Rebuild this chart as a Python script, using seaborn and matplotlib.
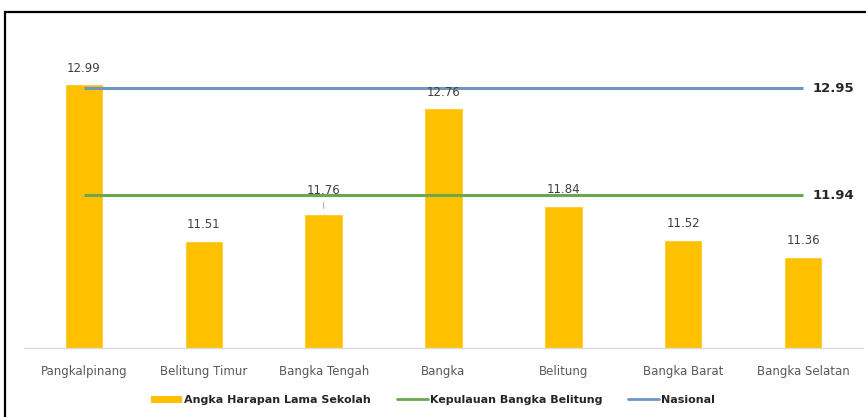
import numpy as np
import pandas as pd
import matplotlib.pyplot as plt
import seaborn as sns
from matplotlib.patches import Patch, Rectangle
from matplotlib.lines import Line2D

# data
kabupaten = ["Pangkalpinang", "Belitung Timur", "Bangka Tengah", "Bangka",
             "Belitung", "Bangka Barat", "Bangka Selatan"]
ahls = [12.99, 11.51, 11.76, 12.76, 11.84, 11.52, 11.36]
provinsi = 11.94   # Kepulauan Bangka Belitung
nasional = 12.95

df = pd.DataFrame({"kabupaten": kabupaten, "ahls": ahls})

sns.set_theme(style="white")
plt.rcParams["font.family"] = ["DejaVu Sans"]

fig = plt.figure(figsize=(8.66, 4.17), dpi=100)
ax = fig.add_axes([24 / 866, 69 / 417, 839 / 866, 318 / 417])

sns.barplot(data=df, x="kabupaten", y="ahls", color="#FFC000", width=0.32,
            saturation=1, ax=ax, zorder=2)

n = len(kabupaten)
ax.hlines(nasional, 0, n - 1, color="#6E96C0", lw=2.2, zorder=3)
ax.hlines(provinsi, 0, n - 1, color="#6AA84F", lw=2.2, zorder=3)

# value labels above the bars
for i, v in enumerate(ahls):
    off = 9
    if kabupaten[i] == "Bangka Tengah":
        off = 15
        ax.annotate("", xy=(i, v + 0.03), xytext=(i, v + 0.14),
                    arrowprops=dict(arrowstyle="-", color="#9DB3CF", lw=0.8))
    ax.annotate(f"{v:.2f}", xy=(i, v), xytext=(0, off), textcoords="offset points",
                ha="center", va="baseline", fontsize=8.5, color="#404040")

# reference line labels at the right
for val in (nasional, provinsi):
    ax.annotate(f"{val:.2f}", xy=(n - 1, val), xytext=(7, 0), textcoords="offset points",
                ha="left", va="center", fontsize=9.5, fontweight="bold", color="#262626")

ax.set_xlim(-0.5, n - 0.5)
ax.set_ylim(10.5, 13.5)
ax.set_xlabel("")
ax.set_ylabel("")
ax.set_yticks([])
ax.tick_params(axis="x", length=0, pad=12, labelsize=8.5, labelcolor="#595959")
for s in ["top", "right", "left"]:
    ax.spines[s].set_visible(False)
ax.spines["bottom"].set_color("#D9D9D9")
ax.spines["bottom"].set_linewidth(1)

handles = [Patch(facecolor="#FFC000", edgecolor="none"),
           Line2D([], [], color="#6AA84F", lw=2),
           Line2D([], [], color="#6E96C0", lw=2)]
labels = ["Angka Harapan Lama Sekolah", "Kepulauan Bangka Belitung", "Nasional"]
fig.legend(handles, labels, loc="center", bbox_to_anchor=(0.5, 17 / 417), ncol=3,
           frameon=False, handlelength=2.8, handleheight=0.6,
           handletextpad=0.2, columnspacing=2.3,
           prop={"weight": "bold", "size": 8})

# black frame around the chart
fig.patches.append(Rectangle((5 / 866, -0.05), 1.0, (417 - 12) / 417 + 0.05,
                             transform=fig.transFigure, fill=False,
                             edgecolor="black", lw=1.6))

fig.savefig("out.png", dpi=100)
